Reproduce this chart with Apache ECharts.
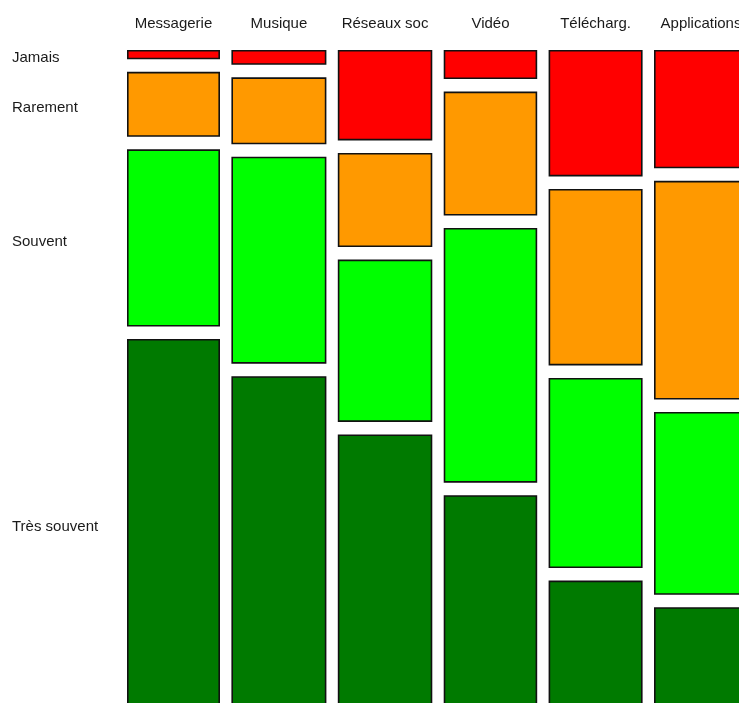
<!DOCTYPE html>
<html>
<head>
<meta charset="utf-8">
<script src="https://cdn.jsdelivr.net/npm/echarts@6/dist/echarts.min.js"></script>
<style>
html,body{margin:0;padding:0;background:#fff;}
#chart{width:739px;height:703px;}
</style>
</head>
<body>
<div id="chart"></div>
<script>
// Categories (columns) and levels (rows)
const categories = ['Messagerie', 'Musique', 'Réseaux soc', 'Vidéo', 'Télécharg.', 'Applications'];
const levels = ['Jamais', 'Rarement', 'Souvent', 'Très souvent'];
// Relative column widths (column totals)
const colWeights = [93, 95, 94.5, 93.5, 94, 94];
// Percent of each column for each level
const jamais      = [1.5, 2.4, 14.6, 4.7, 20.4, 19.1];
const rarement    = [10.5, 10.8, 15.2, 20.0, 28.5, 35.3];
const souvent     = [28.6, 33.4, 26.2, 41.1, 30.7, 29.5];
const tresSouvent = [59.4, 53.4, 44.0, 34.2, 20.4, 16.1];
const colors = ['#ff0000', '#ff9900', '#00ff00', '#007a00'];

const levelValues = [jamais, rarement, souvent, tresSouvent];

const GRID_LEFT = 127, GRID_TOP = 50, GRID_W = 621, GRID_H = 657;
const GAP_X = 11.4 / GRID_W;
const GAP_Y = 12.5 / GRID_H;

const totalW = colWeights.reduce((a, b) => a + b, 0);
const availX = 1 - (categories.length - 1) * GAP_X;
const availY = 1 - (levels.length - 1) * GAP_Y;

function colStart(c) {
  let x = 0;
  for (let j = 0; j < c; j++) x += colWeights[j] / totalW * availX + GAP_X;
  return x;
}
function rowStart(c, r) {
  let y = 0;
  const tot = levelValues.reduce((s, arr) => s + arr[c], 0);
  for (let k = 0; k < r; k++) {
    y += levelValues[k][c] / tot * availY + GAP_Y;
  }
  return y;
}

const data = [];
for (let c = 0; c < categories.length; c++) {
  for (let r = 0; r < levels.length; r++) {
    data.push([c, r, levelValues[r][c]]);
  }
}

const FONT = '15px "Liberation Sans", Arial, sans-serif';

function renderItem(params, api) {
  const c = api.value(0), r = api.value(1);
  const tot = levelValues.reduce((s, arr) => s + arr[c], 0);
  const x0 = colStart(c);
  const x1 = x0 + colWeights[c] / totalW * availX;
  const y0 = rowStart(c, r);
  const y1 = y0 + levelValues[r][c] / tot * availY;
  const p0 = api.coord([x0, y0]);
  const p1 = api.coord([x1, y1]);
  const lw = 1.6;
  const children = [{
    type: 'rect',
    shape: {
      x: p0[0] + lw / 2,
      y: p0[1] + lw / 2,
      width: p1[0] - p0[0] - lw,
      height: p1[1] - p0[1] - lw
    },
    style: { fill: colors[r], stroke: '#111', lineWidth: lw }
  }];
  if (r === 0) {
    children.push({
      type: 'text',
      style: {
        text: categories[c],
        x: (p0[0] + p1[0]) / 2,
        y: p0[1] - 26,
        textAlign: 'center', align: 'center',
        textVerticalAlign: 'middle', verticalAlign: 'middle',
        font: FONT, fill: '#1a1a1a'
      }
    });
  }
  if (c === 0) {
    children.push({
      type: 'text',
      style: {
        text: levels[r],
        x: 12,
        y: (p0[1] + p1[1]) / 2 + 3.5,
        textAlign: 'left', align: 'left',
        textVerticalAlign: 'middle', verticalAlign: 'middle',
        font: FONT, fill: '#1a1a1a'
      }
    });
  }
  return { type: 'group', children: children };
}

const chart = echarts.init(document.getElementById('chart'), null, { renderer: 'canvas' });
chart.setOption({
  animation: false,
  backgroundColor: '#ffffff',
  grid: { left: GRID_LEFT, top: GRID_TOP, width: GRID_W, height: GRID_H, outerBoundsMode: 'none', containLabel: false },
  xAxis: { type: 'value', min: 0, max: 1, show: false },
  yAxis: { type: 'value', min: 0, max: 1, inverse: true, show: false },
  series: [{
    type: 'custom',
    renderItem: renderItem,
    clip: false,
    data: data,
    encode: { x: 0, y: 1 }
  }]
});
</script>
</body>
</html>
